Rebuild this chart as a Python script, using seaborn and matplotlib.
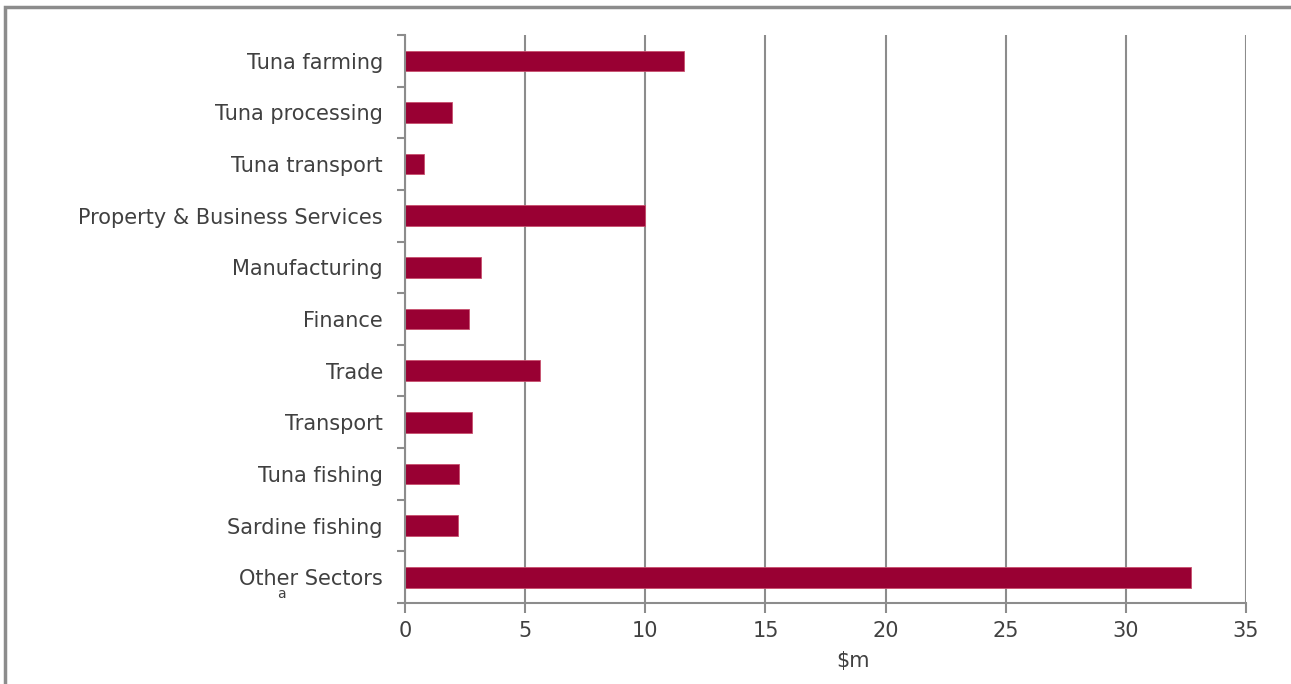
import matplotlib
matplotlib.use("Agg")
import matplotlib.pyplot as plt
import seaborn as sns
import pandas as pd
from matplotlib.patches import Rectangle

categories = ["Tuna farming", "Tuna processing", "Tuna transport",
              "Property & Business Services", "Manufacturing", "Finance",
              "Trade", "Transport", "Tuna fishing", "Sardine fishing",
              "Other Sectors"]
values = [11.6, 1.95, 0.8, 10.0, 3.15, 2.65, 5.6, 2.8, 2.25, 2.2, 32.7]
x_ticks = [0, 5, 10, 15, 20, 25, 30, 35]

df = pd.DataFrame({"sector": categories, "value": values})

sns.set_theme(style="white")
plt.rcParams['font.family'] = ['DejaVu Sans']

fig = plt.figure(figsize=(12.91, 6.84), dpi=100)
ax = fig.add_axes([0.3137, 0.1184, 0.6515, 0.8304])

sns.barplot(data=df, x="value", y="sector", orient="h", color="#990033",
            saturation=1, width=0.4, ax=ax, edgecolor="#c8506e", linewidth=0.6)

text_color = "#404040"
grid_color = "#8c8c8c"

ax.set_xlim(0, 35)
ax.set_ylim(len(categories) - 0.5, -0.5)
ax.set_xticks(x_ticks)
ax.set_xticklabels([str(t) for t in x_ticks], color=text_color, fontsize=15)
ax.xaxis.grid(True, color=grid_color, linewidth=1.5)
ax.set_axisbelow(True)

# y ticks: labels at centers, tick marks at boundaries
ax.set_yticks(range(len(categories)))
ax.set_yticklabels(categories, color=text_color, fontsize=15)
ax.tick_params(axis="y", which="major", left=True, length=0, pad=16)
ax.set_yticks([i - 0.5 for i in range(len(categories) + 1)], minor=True)
ax.tick_params(axis="y", which="minor", left=True, length=6, width=1.5,
               color=grid_color, direction="out")
ax.tick_params(axis="x", which="major", bottom=True, length=7, width=1.5,
               color=grid_color, direction="out", pad=6)

for s in ["top", "right"]:
    ax.spines[s].set_visible(False)
for s in ["left", "bottom"]:
    ax.spines[s].set_color(grid_color)
    ax.spines[s].set_linewidth(1.5)

ax.set_ylabel("")
ax.set_xlabel("$m", color=text_color, fontsize=15)
ax.xaxis.set_label_coords(0.533, -0.085)

fig.text(281 / 1291, 1 - 594 / 684, "a", fontsize=10, color=text_color,
         ha="center", va="center")

fig.patches.append(Rectangle((5 / 1291, -0.01), 1.02, 1 - 7 / 684 + 0.01,
                             transform=fig.transFigure, fill=False,
                             edgecolor="#8c8c8c", linewidth=2.5, zorder=-1))

fig.savefig("out.png", dpi=100, facecolor="white")
